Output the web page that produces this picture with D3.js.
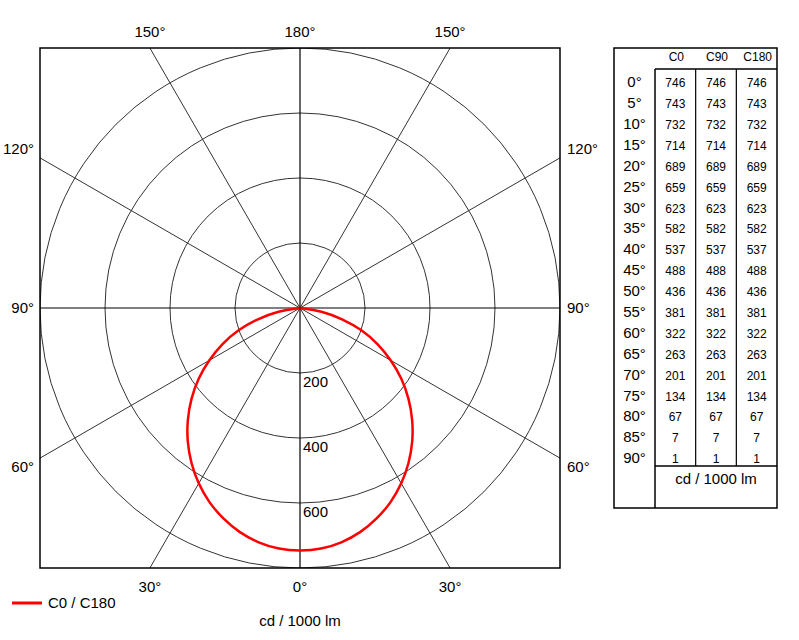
<!DOCTYPE html>
<html>
<head>
<meta charset="utf-8">
<script src="https://cdn.jsdelivr.net/npm/d3@7"></script>
<style>
  body { margin: 0; background: #fff; }
  svg { font-family: "Liberation Sans", Arial, sans-serif; }
</style>
</head>
<body>
<div id="chart"></div>
<script>
// photometric data, cd / 1000 lm
var gammas = [0, 5, 10, 15, 20, 25, 30, 35, 40, 45, 50, 55, 60, 65, 70, 75, 80, 85, 90];
var c0   = [746, 743, 732, 714, 689, 659, 623, 582, 537, 488, 436, 381, 322, 263, 201, 134, 67, 7, 1];
var c90  = [746, 743, 732, 714, 689, 659, 623, 582, 537, 488, 436, 381, 322, 263, 201, 134, 67, 7, 1];
var c180 = [746, 743, 732, 714, 689, 659, 623, 582, 537, 488, 436, 381, 322, 263, 201, 134, 67, 7, 1];
var planes = ["C0", "C90", "C180"];
var radialTicks = [200, 400, 600, 800];
var radialLabels = [200, 400, 600];
var angleTicks = [0, 30, 60, 90, 120, 150, 180];
var unitLabel = "cd / 1000 lm";
var legendLabel = "C0 / C180";

var W = 799, H = 640;
var cx = 300, cy = 308, half = 260;

var svg = d3.select("#chart").append("svg")
    .attr("width", W)
    .attr("height", H);

var r = d3.scaleLinear().domain([0, 800]).range([0, half]);

svg.append("clipPath").attr("id", "frame")
  .append("rect")
    .attr("x", cx - half).attr("y", cy - half)
    .attr("width", half * 2).attr("height", half * 2);

var plot = svg.append("g")
    .attr("transform", "translate(" + cx + "," + cy + ")");
var grid = plot.append("g").attr("clip-path", "url(#frame)")
    .attr("transform", "translate(" + (-cx) + "," + (-cy) + ")")
  .append("g")
    .attr("transform", "translate(" + cx + "," + cy + ")");

// circles
grid.selectAll("circle.ring")
  .data(radialTicks)
  .enter().append("circle")
    .attr("class", "ring")
    .attr("r", function(d) { return r(d); })
    .attr("fill", "none")
    .attr("stroke", "#333")
    .attr("stroke-width", 1);

// radial lines (full diameters), angle from nadir
var spokes = [30, 60, 120, 150];
grid.selectAll("line.spoke")
  .data(spokes)
  .enter().append("line")
    .attr("class", "spoke")
    .attr("x1", function(d) { return -500 * Math.sin(d * Math.PI / 180); })
    .attr("y1", function(d) { return -500 * Math.cos(d * Math.PI / 180); })
    .attr("x2", function(d) { return 500 * Math.sin(d * Math.PI / 180); })
    .attr("y2", function(d) { return 500 * Math.cos(d * Math.PI / 180); })
    .attr("stroke", "#333")
    .attr("stroke-width", 1);

grid.append("line")
    .attr("x1", -half).attr("x2", half).attr("y1", 0).attr("y2", 0)
    .attr("stroke", "#000").attr("stroke-width", 1.2);
grid.append("line")
    .attr("x1", 0).attr("x2", 0).attr("y1", -half).attr("y2", half)
    .attr("stroke", "#000").attr("stroke-width", 1.2);

// frame
svg.append("rect")
    .attr("x", cx - half).attr("y", cy - half)
    .attr("width", half * 2).attr("height", half * 2)
    .attr("fill", "none")
    .attr("stroke", "#000")
    .attr("stroke-width", 1.5);

// radial value labels
plot.selectAll("text.rlab")
  .data(radialLabels)
  .enter().append("text")
    .attr("class", "rlab")
    .attr("x", 3)
    .attr("y", function(d) { return r(d) + 9; })
    .attr("dy", "0.35em")
    .attr("font-size", 15)
    .text(function(d) { return d; });

// C0 / C180 curve
var pts = [];
for (var i = gammas.length - 1; i >= 0; i--) pts.push([-gammas[i], c180[i]]);
for (var j = 1; j < gammas.length; j++) pts.push([gammas[j], c0[j]]);

var curve = d3.lineRadial()
    .angle(function(d) { return Math.PI - d[0] * Math.PI / 180; })
    .radius(function(d) { return r(d[1]); })
    .curve(d3.curveCatmullRom);

plot.append("path")
    .datum(pts)
    .attr("d", curve)
    .attr("fill", "none")
    .attr("stroke", "#ff0000")
    .attr("stroke-width", 2.5);

// angle labels outside the frame
var angLabs = [];
angleTicks.forEach(function(a) {
  [-1, 1].forEach(function(side) {
    if ((a == 0 || a == 180) && side == -1) return;
    angLabs.push({a: a, side: side});
  });
});
angLabs.forEach(function(o) {
  var dx = o.side * Math.sin(o.a * Math.PI / 180);
  var dy = Math.cos(o.a * Math.PI / 180);
  if (Math.abs(dx) < 1e-9) dx = 0;
  if (Math.abs(dy) < 1e-9) dy = 0;
  var t = half / Math.max(Math.abs(dx), Math.abs(dy));
  var px = dx * t, py = dy * t;
  var txt = plot.append("text")
      .attr("font-size", 15)
      .attr("dy", "0.35em")
      .text(o.a + "°");
  if (Math.abs(dy) > Math.abs(dx)) {
    txt.attr("x", px).attr("y", py + (dy > 0 ? 19 : -16))
       .attr("text-anchor", "middle");
  } else {
    txt.attr("x", px + (dx > 0 ? 7 : -6))
       .attr("y", py + Math.sign(dy) * 9)
       .attr("text-anchor", dx > 0 ? "start" : "end");
  }
});

// legend
svg.append("line")
    .attr("x1", 12).attr("x2", 42).attr("y1", 603).attr("y2", 603)
    .attr("stroke", "#ff0000").attr("stroke-width", 3);
svg.append("text")
    .attr("x", 48).attr("y", 603).attr("dy", "0.35em")
    .attr("font-size", 15)
    .text(legendLabel);
svg.append("text")
    .attr("x", 300).attr("y", 621).attr("dy", "0.35em")
    .attr("text-anchor", "middle")
    .attr("font-size", 15)
    .text(unitLabel);

// table
var tx0 = 614, tx1 = 777, ty0 = 48, ty1 = 508;
var colX = 655, headY = 69, rowsBottom = 466;
var colW = (tx1 - colX) / planes.length;
var rowY = d3.scaleLinear().domain([0, gammas.length - 1]).range([82, 458]);

var tbl = svg.append("g");
tbl.append("rect")
    .attr("x", tx0).attr("y", ty0)
    .attr("width", tx1 - tx0).attr("height", ty1 - ty0)
    .attr("fill", "none").attr("stroke", "#000").attr("stroke-width", 1.5);
tbl.append("line")
    .attr("x1", colX).attr("x2", tx1).attr("y1", headY).attr("y2", headY)
    .attr("stroke", "#000").attr("stroke-width", 1.5);
tbl.append("line")
    .attr("x1", colX).attr("x2", colX).attr("y1", headY).attr("y2", ty1)
    .attr("stroke", "#000").attr("stroke-width", 1.5);
tbl.append("line")
    .attr("x1", colX).attr("x2", tx1).attr("y1", rowsBottom).attr("y2", rowsBottom)
    .attr("stroke", "#000").attr("stroke-width", 1.5);
[1, 2].forEach(function(k) {
  tbl.append("line")
      .attr("x1", colX + k * colW).attr("x2", colX + k * colW)
      .attr("y1", headY).attr("y2", rowsBottom)
      .attr("stroke", "#000").attr("stroke-width", 1.2);
});

tbl.selectAll("text.head")
  .data(planes)
  .enter().append("text")
    .attr("x", function(d, k) { return colX + (k + 0.5) * colW + 1; })
    .attr("y", 57).attr("dy", "0.35em")
    .attr("text-anchor", "middle")
    .attr("font-size", 12)
    .text(function(d) { return d; });

tbl.selectAll("text.rowlab")
  .data(gammas)
  .enter().append("text")
    .attr("x", (tx0 + colX) / 2)
    .attr("y", function(d, k) { return rowY(k); })
    .attr("dy", "0.35em")
    .attr("text-anchor", "middle")
    .attr("font-size", 15)
    .text(function(d) { return d + "°"; });

[c0, c90, c180].forEach(function(vals, k) {
  tbl.selectAll("text.v" + k)
    .data(vals)
    .enter().append("text")
      .attr("x", colX + (k + 0.5) * colW)
      .attr("y", function(d, n) { return rowY(n) + 1; })
      .attr("dy", "0.35em")
      .attr("text-anchor", "middle")
      .attr("font-size", 12)
      .text(function(d) { return d; });
});

tbl.append("text")
    .attr("x", (colX + tx1) / 2)
    .attr("y", 479).attr("dy", "0.35em")
    .attr("text-anchor", "middle")
    .attr("font-size", 15)
    .text(unitLabel);
</script>
</body>
</html>
